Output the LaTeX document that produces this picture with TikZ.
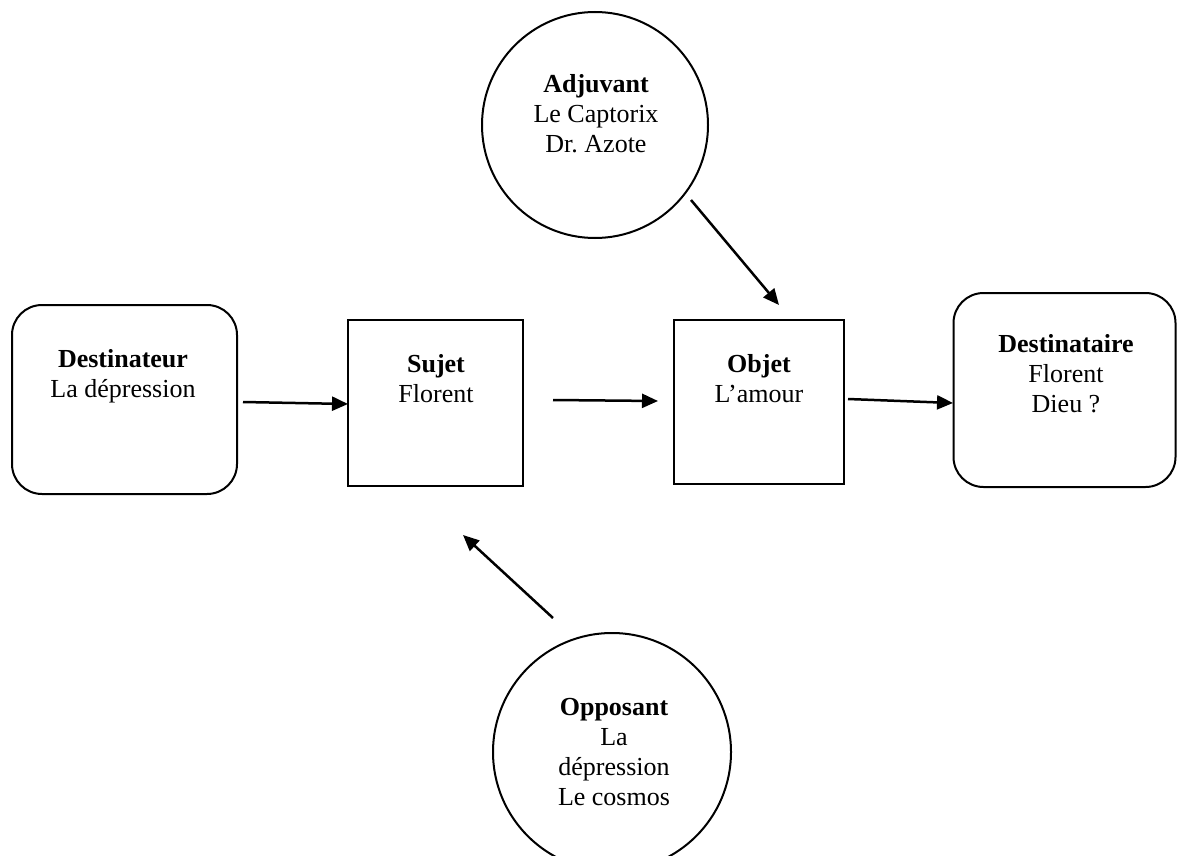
\documentclass[tikz,border=0pt]{standalone}
\usepackage{fontspec}
\setmainfont{Liberation Serif}
\usetikzlibrary{arrows.meta}
\frenchspacing
\begin{document}
\begin{tikzpicture}[x=1pt,y=-1pt,
  shapebox/.style={draw=black, line width=2pt, inner sep=0pt, outer sep=0pt},
  rbox/.style={shapebox, rectangle, rounded corners=30pt},
  sbox/.style={shapebox, rectangle},
  cbox/.style={shapebox, circle},
  lbl/.style={anchor=base, align=center, inner sep=0pt, font=\fontsize{26}{30}\selectfont},
  conn/.style={line width=2.5pt, -{Triangle[length=16pt,width=14pt]}}]
\useasboundingbox (0,0) rectangle (1177,856);
\clip (0,0) rectangle (1177,856);
% shapes
\node[rbox, minimum width=225pt, minimum height=189pt] (dest) at (124.5,399.5) {};
\node[sbox, minimum width=175pt, minimum height=166pt] (sujet) at (435.5,403) {};
\node[sbox, minimum width=170pt, minimum height=164pt] (objet) at (759,402) {};
\node[rbox, minimum width=222pt, minimum height=194pt] (destaire) at (1064.5,390) {};
\node[cbox, minimum size=226pt] (adj) at (595,125) {};
\node[cbox, minimum size=238pt] (opp) at (612,752) {};
% texts (base anchor = baseline of the last line)
\node[lbl] (destT) at (123,397) {\textbf{Destinateur}\\La dépression};
\node[lbl] (sujetT) at (436,402) {\textbf{Sujet}\\Florent};
\node[lbl] (objetT) at (759,402) {\textbf{Objet}\\L’amour};
\node[lbl] (destaireT) at (1066,412) {\textbf{Destinataire}\\Florent\\Dieu ?};
\node[lbl] (adjT) at (596,153) {\textbf{Adjuvant}\\Le Captorix\\Dr.\ Azote};
\node[lbl] (oppT) at (614,805) {\textbf{Opposant}\\La\\dépression\\Le cosmos};
% connector end points
\coordinate (a1s) at (243,402);
\coordinate (a1e) at (348,404);
\coordinate (a2s) at (553,400);
\coordinate (a2e) at (658,401);
\coordinate (a3s) at (848,399);
\coordinate (a3e) at (953,403);
\coordinate (a4s) at (691,200);
\coordinate (a4e) at (779,305);
\coordinate (a5s) at (553,618);
\coordinate (a5e) at (463,535);
\draw[conn] (a1s) -- (a1e);
\draw[conn] (a2s) -- (a2e);
\draw[conn] (a3s) -- (a3e);
\draw[conn] (a4s) -- (a4e);
\draw[conn] (a5s) -- (a5e);
\end{tikzpicture}
\end{document}
